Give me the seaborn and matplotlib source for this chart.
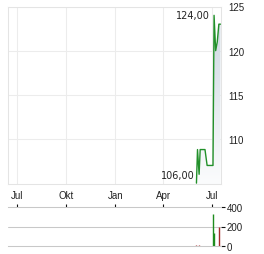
import matplotlib
matplotlib.use('Agg')
import matplotlib.pyplot as plt
import matplotlib.dates as mdates
from matplotlib.colors import LinearSegmentedColormap
import numpy as np
import pandas as pd
import seaborn as sns

# ---- data ----
price_dates = ['2025-06-02', '2025-06-04', '2025-06-07', '2025-06-09', '2025-06-18',
               '2025-06-22', '2025-07-03', '2025-07-05', '2025-07-08', '2025-07-11',
               '2025-07-14', '2025-07-17']
prices = [105.0, 108.8, 106.0, 108.8, 108.8, 107.0, 107.0, 124.0, 120.0, 121.0, 123.0, 123.0]

vol_dates = ['2025-06-02', '2025-06-07', '2025-07-03', '2025-07-05', '2025-07-15']
vol_values = [8, 8, 324, 131, 200]
vol_colors = ['#a52a2a', '#a52a2a', '#1e8c1e', '#1e8c1e', '#a52a2a']

month_ticks = ['2024-07-01', '2024-10-01', '2025-01-01', '2025-04-01', '2025-07-01']
month_labels = ['Jul', 'Okt', 'Jan', 'Apr', 'Jul']
price_ticks = [110, 115, 120, 125]
vol_ticks = [0, 200, 400]
high_label = '124,00'
low_label = '106,00'

x_start, x_end = '2024-06-14', '2025-07-18'
y_low, y_high = 104.9, 125
# ---------------

sns.set_theme(style='white')
plt.rcParams['font.family'] = ['Liberation Sans', 'DejaVu Sans']

W, H = 264, 255
fig = plt.figure(figsize=(W / 100, H / 100), dpi=100)
ax = fig.add_axes([8 / W, 1 - 185 / H, 213 / W, (185 - 7.5) / H])
axv = fig.add_axes([8 / W, 1 - 247 / H, 213 / W, 39 / H])

df = pd.DataFrame({'date': pd.to_datetime(price_dates), 'price': prices})
xmin, xmax = pd.Timestamp(x_start), pd.Timestamp(x_end)

# gradient fill under the line
poly = ax.fill_between(df['date'], df['price'], y_low, color='none', lw=0)
cmap = LinearSegmentedColormap.from_list('g', ['#fbfcfd', '#cdd7e1'])
grad = np.linspace(0, 1, 256).reshape(-1, 1)
d0, d1 = mdates.date2num(df['date'].min()), mdates.date2num(df['date'].max())
img = ax.imshow(grad, extent=[d0, d1, y_low, max(prices)], origin='lower',
                aspect='auto', cmap=cmap, zorder=1)
img.set_clip_path(poly.get_paths()[0], transform=ax.transData)

sns.lineplot(data=df, x='date', y='price', ax=ax, color='#22902a', lw=1.0, zorder=3)

ax.set_xlim(xmin, xmax)
ax.set_ylim(y_low, y_high)
ax.set_xticks(pd.to_datetime(month_ticks))
ax.set_xticklabels(month_labels)
ax.set_yticks(price_ticks)
ax.yaxis.tick_right()
ax.tick_params(axis='both', length=0, labelsize=7, colors='#222222')
ax.tick_params(axis='x', pad=4)
ax.tick_params(axis='y', pad=5)
ax.set_xlabel('')
ax.set_ylabel('')
ax.grid(True, color='#ececec', lw=0.75)
ax.set_axisbelow(True)
for s in ax.spines.values():
    s.set_color('#e4e4e4')
    s.set_linewidth(0.75)

# high / low annotations
i_hi = int(np.argmax(prices))
i_lo = int(np.argmin(prices))
ax.annotate(high_label, (df['date'][i_hi], prices[i_hi]), xytext=(-4, 0),
            textcoords='offset pixels', ha='right', va='center', fontsize=7,
            family='DejaVu Sans', color='#222222')
ax.annotate(low_label, (df['date'][i_lo], prices[i_lo]), xytext=(-2, 8),
            textcoords='offset pixels', ha='right', va='center', fontsize=7,
            family='DejaVu Sans', color='#222222')

# volume panel
axv.vlines(pd.to_datetime(vol_dates), 0, vol_values, colors=vol_colors, lw=1.0)
axv.set_xlim(xmin, xmax)
axv.set_ylim(0, 400)
axv.set_yticks(vol_ticks)
axv.yaxis.tick_right()
axv.set_xticks(pd.to_datetime(month_ticks))
axv.xaxis.tick_top()
axv.tick_params(axis='x', direction='out', length=2.2, width=0.8, color='#111111',
                labeltop=False, labelbottom=False)
axv.tick_params(axis='y', direction='out', length=3, width=0.8, color='#111111',
                labelsize=7, labelcolor='#222222', pad=1)
axv.grid(False)
axv.axhline(200, color='#c8c8c8', lw=0.75, zorder=0)
for k in ['left', 'right']:
    axv.spines[k].set_visible(False)
for k in ['top', 'bottom']:
    axv.spines[k].set_color('#c8c8c8')
    axv.spines[k].set_linewidth(0.75)

fig.savefig('out.png', dpi=100)
